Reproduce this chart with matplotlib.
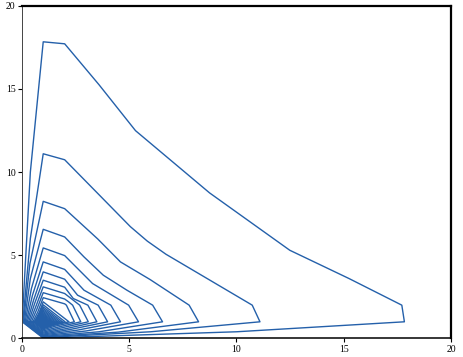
"""Contour lines of a symmetric surface on a 0..20 grid, redrawn as polylines"""

import numpy as np
import matplotlib
matplotlib.use('Agg')
import matplotlib.pyplot as plt

nan = np.nan

# Outer contours, upper-left half only; the chart is
# symmetric about the diagonal so the lower half is the same points swapped.
peak_y     = [17.83, 11.10, 8.24, 6.56, 5.44, 4.60, 4.00, 3.50, 3.10, 2.75, 2.45, 2.20]   # y at x = 1
shoulder_y = [17.71, 10.74, 7.80, 6.10, 4.98, 4.15, 3.56, 3.08, 2.70, 2.37, 2.08, nan]    # y at x = 2
sag1_x     = [3.60, 3.50, 3.54, 2.90, nan, nan, nan, nan, nan, nan, nan, nan]
sag1_y     = [15.25, 8.77, 5.98, 4.90, nan, nan, nan, nan, nan, nan, nan, nan]
sag2_x     = [5.30, 5.06, nan, nan, nan, nan, nan, nan, nan, nan, nan, nan]
sag2_y     = [12.49, 6.72, nan, nan, nan, nan, nan, nan, nan, nan, nan, nan]
diag       = [8.75, 5.85, 4.60, 3.80, 3.30, 2.90, 2.60, 2.40, 2.35, 2.19, 2.04, 1.60]     # x = y crossing
foot_x     = [0.02, 0.05, 0.08, 0.12, 0.16, 0.21, 0.26, 0.32, 0.38, 0.45, 0.52, 0.58]     # x at y = 1
knee_x     = [0.40, 0.40, 0.38, 0.40, 0.45, 0.50, 0.55, 0.60, 0.65, 0.70, 0.75, 0.80]
knee_y     = [10.0, 6.00, 4.50, 3.60, 3.00, 2.60, 2.30, 2.10, 1.90, 1.75, 1.60, 1.50]

# Small contours packed round (1, 1)
inner_peak = [2.02, 1.90, 1.80, 1.71, 1.63, 1.55, 1.48, 1.42, 1.36, 1.31,
              1.26, 1.21, 1.17, 1.13, 1.09, 1.06, 1.03]
inner_foot = [0.61, 0.64, 0.67, 0.70, 0.72, 0.75, 0.77, 0.79, 0.82, 0.84,
              0.86, 0.88, 0.90, 0.92, 0.94, 0.96, 0.98]

ticks = [0, 5, 10, 15, 20]
LINE_COLOR = '#2460aa'


def outer_path(k):
    upper = [(foot_x[k], 1.0), (knee_x[k], knee_y[k]), (1.0, peak_y[k])]
    if not np.isnan(shoulder_y[k]):
        upper.append((2.0, shoulder_y[k]))
    if not np.isnan(sag1_x[k]):
        upper.append((sag1_x[k], sag1_y[k]))
    if not np.isnan(sag2_x[k]):
        upper.append((sag2_x[k], sag2_y[k]))
    upper.append((diag[k], diag[k]))
    lower = [(y, x) for (x, y) in reversed(upper[:-1])]
    pts = np.array(upper + lower + [upper[0]])
    return pts[:, 0], pts[:, 1]


def inner_path(p, f):
    pts = np.array([(f, 1.0), (1.0, p), (p, 1.0), (1.0, f), (f, 1.0)])
    return pts[:, 0], pts[:, 1]


fig = plt.figure(figsize=(4.63, 3.57), dpi=100)
ax = fig.add_axes([0.047, 0.052, 0.927, 0.932])

for k in range(len(peak_y)):
    xs, ys = outer_path(k)
    ax.plot(xs, ys, color=LINE_COLOR, lw=1.0, solid_joinstyle='round')

for p, f in zip(inner_peak, inner_foot):
    xs, ys = inner_path(p, f)
    ax.plot(xs, ys, color=LINE_COLOR, lw=1.0, solid_joinstyle='round')

ax.set_xlim(0, 20)
ax.set_ylim(0, 20)
ax.set_xticks(ticks)
ax.set_yticks(ticks)
ax.set_xticklabels([str(t) for t in ticks], family='Liberation Serif', fontsize=7)
ax.set_yticklabels([str(t) for t in ticks], family='Liberation Serif', fontsize=7)
ax.tick_params(direction='out', length=3, width=0.8, pad=1.5)

# frame: heavy top/right, light left
ax.spines['top'].set_linewidth(1.6)
ax.spines['right'].set_linewidth(1.6)
ax.spines['bottom'].set_linewidth(1.1)
ax.spines['left'].set_linewidth(0.7)
ax.spines['left'].set_color('#444444')

plt.savefig('out.png', dpi=100)
